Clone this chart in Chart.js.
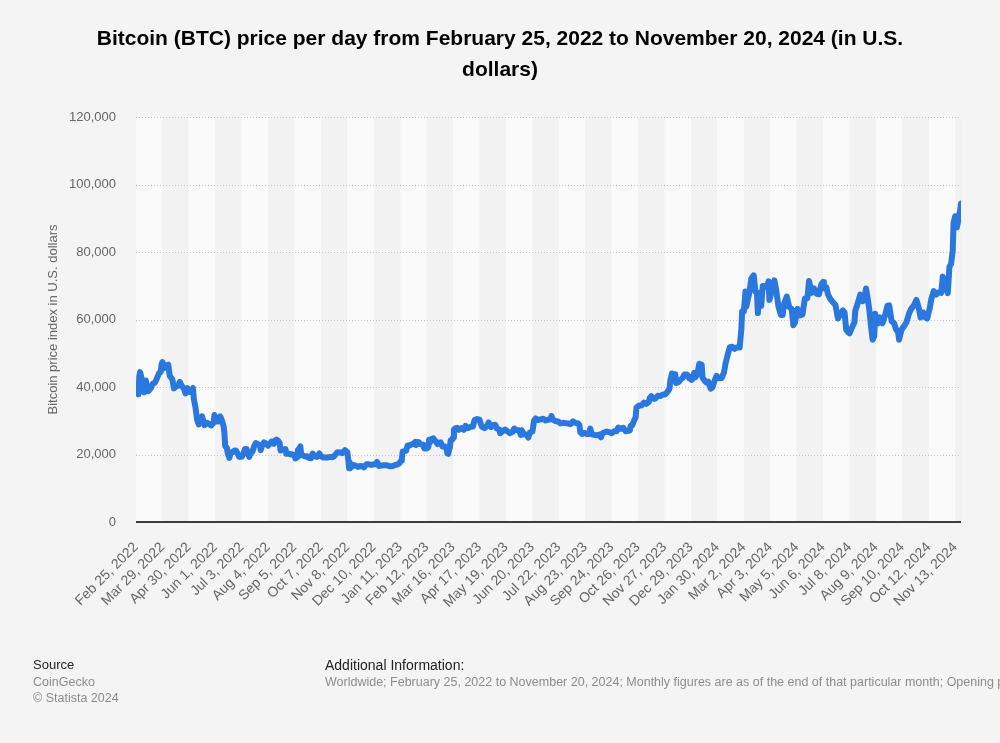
<!DOCTYPE html>
<html>
<head>
<meta charset="utf-8">
<script src="https://cdn.jsdelivr.net/npm/chart.js@4/dist/chart.umd.min.js"></script>
<style>
  html, body { margin: 0; padding: 0; background: #f4f4f4; }
  body { width: 1000px; height: 743px; position: relative; overflow: hidden; font-family: "Liberation Sans", Arial, sans-serif; }
  #wrap { position: absolute; left: 0; top: 0; width: 1000px; height: 743px; }
  .title { position: absolute; left: 0; width: 1000px; text-align: center; font-weight: bold; font-size: 21px; color: #000; line-height: 31px; }
  .foot { position: absolute; font-size: 12.5px; white-space: nowrap; line-height: 16px; }
  .fh { color: #222; font-size: 13px; }
  .fg { color: #8c8c8c; }
</style>
</head>
<body>
<div id="wrap"><canvas id="c" width="1000" height="743"></canvas></div>
<div class="title" style="top:22px">Bitcoin (BTC) price per day from February 25, 2022 to November 20, 2024 (in U.S.</div>
<div class="title" style="top:53px">dollars)</div>
<div class="foot fh" style="left:33px; top:657px;">Source</div>
<div class="foot fg" style="left:33px; top:674px;">CoinGecko</div>
<div class="foot fg" style="left:33px; top:690px;">© Statista 2024</div>
<div class="foot fh" style="left:325px; top:657px; font-size:14px;">Additional Information:</div>
<div class="foot fg" style="left:325px; top:674px;">Worldwide; February 25, 2022 to November 20, 2024; Monthly figures are as of the end of that particular month; Opening price</div>
<script>
// Day offsets counted from Feb 25, 2022 (day 0) to Nov 20, 2024 (day 999)
const tickDays = [0,32,64,96,128,160,192,224,256,288,320,352,384,416,448,480,512,544,576,608,640,672,704,736,768,800,832,864,896,928,960,992];
const tickLabels = ["Feb 25, 2022","Mar 29, 2022","Apr 30, 2022","Jun 1, 2022","Jul 3, 2022","Aug 4, 2022","Sep 5, 2022","Oct 7, 2022","Nov 8, 2022","Dec 10, 2022","Jan 11, 2023","Feb 12, 2023","Mar 16, 2023","Apr 17, 2023","May 19, 2023","Jun 20, 2023","Jul 22, 2023","Aug 23, 2023","Sep 24, 2023","Oct 26, 2023","Nov 27, 2023","Dec 29, 2023","Jan 30, 2024","Mar 2, 2024","Apr 3, 2024","May 5, 2024","Jun 6, 2024","Jul 8, 2024","Aug 9, 2024","Sep 10, 2024","Oct 12, 2024","Nov 13, 2024"];
const yTicks = [0,20000,40000,60000,80000,100000,120000];

// [day offset, price in USD]
const prices2022 = [[0,38300],[2,39100],[3,37800],[4,43200],[5,44400],[7,42400],[10,38400],[12,41900],[13,39400],[15,38800],[18,39700],[20,40900],[23,41300],[25,42400],[28,44100],[30,44500],[31,46800],[32,47400],[34,45600],[36,46300],[39,46600],[41,43200],[44,42300],[46,39600],[48,40100],[51,40400],[53,41500],[55,40500],[58,39500],[60,38100],[62,39700],[64,38600],[66,38500],[69,39700],[70,36500],[72,34000],[74,30300],[76,28900],[78,30000],[80,31300],[83,28700],[86,29400],[88,29100],[91,28600],[94,29400],[95,31700],[97,29800],[100,29800],[102,31300],[104,30100],[106,28400],[107,26600],[108,22500],[110,22000],[111,20400],[113,19000],[115,20600],[117,20700],[119,21100],[121,21200],[123,20300],[125,19300],[128,19300],[130,20200],[132,21600],[134,21600],[137,19300],[139,20600],[141,20800],[143,22400],[145,23400],[147,23200],[150,22600],[151,21300],[153,22900],[155,23600],[157,23300],[160,22600],[162,23200],[164,23800],[166,23200],[167,23900],[170,24400],[172,24100],[174,23300],[175,21200],[178,21500],[181,21600],[182,20200],[185,20300],[187,20000],[189,20100],[192,19800],[193,18800],[195,19300],[196,21300],[198,21800],[199,22400],[200,20200],[202,19700],[205,19400],[207,19500],[209,19000],[212,18900],[214,20300],[216,19500],[219,19300],[222,20300],[224,19500],[227,19100],[229,19100],[231,19100],[233,19200],[236,19300],[238,19200],[240,19500],[242,20100],[244,20700],[247,20600],[250,20400],[253,21300],[255,20900],[256,20600],[257,18500],[258,15900],[259,17600],[261,16300],[263,16900],[266,16700],[269,16300],[271,16600],[274,16500],[276,16200],[279,17100],[282,17100],[285,16900],[288,17100],[291,17200],[292,17800],[294,16600],[297,16700],[300,16800],[304,16800],[308,16500]];
const prices2023 = [[311,16600],[314,16900],[317,17100],[319,17400],[321,18200],[322,19000],[323,20900],[325,21000],[327,21100],[329,22700],[331,22700],[333,22900],[335,23100],[338,23700],[339,22800],[341,23100],[342,23700],[345,23000],[348,22900],[349,21800],[352,21800],[354,22200],[355,24400],[356,23600],[358,24600],[360,24800],[363,23900],[365,23100],[367,23500],[369,23600],[371,22400],[374,22400],[376,21700],[377,20300],[378,20200],[380,22100],[381,24200],[383,24400],[384,25100],[385,27400],[387,27800],[389,27900],[391,27300],[394,27800],[397,27300],[399,28500],[402,27800],[405,28200],[408,28300],[410,30200],[413,30500],[416,30300],[417,29400],[419,28200],[422,27800],[425,28400],[427,29500],[430,28100],[432,28700],[435,28800],[437,27700],[440,27400],[441,26300],[444,26900],[447,27400],[450,26800],[453,26300],[456,26700],[458,27700],[461,27200],[464,27200],[466,25800],[467,27200],[470,25900],[473,25900],[475,25000],[477,26500],[480,26800],[481,28300],[482,30000],[484,30700],[487,30200],[490,30400],[493,30600],[496,30100],[499,30300],[502,30400],[503,31400],[505,30300],[508,29900],[511,29800],[514,29200],[517,29400],[520,29300],[523,29200],[526,29000],[529,29800],[532,29400],[535,29200],[537,28700],[538,26600],[540,26100],[543,26400],[546,26100],[549,26100],[550,27700],[552,26000],[555,25800],[558,25700],[561,25900],[563,25100],[565,26300],[567,26500],[570,26800],[573,26600],[576,26300],[579,26900],[582,26900],[584,28000],[587,27600],[590,27900],[593,26900],[596,27000],[598,27100],[599,28500],[601,28700],[603,30000],[605,31000],[606,33900],[609,34500],[612,34500],[615,35400],[618,35000],[621,35600],[622,36700],[624,37300],[627,36500],[629,36600],[632,37400],[635,37300],[638,37800],[641,37800],[644,38700],[646,39500],[647,41900],[649,44000],[651,43800],[653,43800],[654,41200],[657,41500],[660,42300],[662,42700],[664,43700],[667,43700],[670,42600],[673,42100]];
const prices2024 = [[676,44200],[677,42800],[680,43900],[682,46900],[685,46600],[686,42800],[689,41700],[691,41300],[693,41600],[696,39500],[698,39900],[701,42100],[703,43300],[706,42600],[709,42600],[712,44300],[714,47100],[717,50000],[719,51800],[722,51900],[725,51300],[728,51800],[731,51700],[732,54500],[733,57000],[734,62400],[736,62400],[738,68300],[739,63800],[741,66100],[743,68300],[745,72000],[748,73100],[750,68400],[752,67600],[753,61900],[755,67900],[757,64000],[759,69900],[761,69900],[764,69700],[766,71300],[767,65800],[770,68500],[773,71600],[775,69100],[778,63800],[781,61300],[783,61300],[785,64900],[788,66800],[791,63700],[794,63100],[796,58300],[798,59100],[801,63200],[804,61200],[807,61500],[810,66200],[813,66300],[815,71400],[818,67900],[821,69200],[824,67600],[827,67500],[830,70500],[832,71100],[833,69300],[836,69500],[838,67400],[841,66000],[844,65100],[847,64300],[850,60300],[853,61500],[856,62700],[858,62100],[860,57000],[861,56600],[864,55900],[867,57600],[870,59200],[871,62600],[874,64800],[877,67400],[880,65400],[883,67900],[884,69200],[886,66300],[888,62900],[890,58000],[892,54000],[894,55100],[895,61700],[898,58800],[901,60600],[904,58900],[907,61200],[910,64100],[912,64200],[915,59500],[918,58900],[920,57300],[923,56100],[924,54000],[927,57000],[930,58000],[933,59200],[936,61700],[939,63300],[942,64200],[945,65800],[948,63300],[950,60600],[953,62100],[956,60600],[958,60300],[961,63200],[963,66000],[966,68400],[969,67400],[972,68100],[975,67900],[977,72700],[979,70200],[981,69500],[983,67800],[985,75600],[987,76500],[989,80400],[990,88700],[992,90600],[994,87300],[996,89800],[998,92300],[999,94400]];

const points = prices2022.concat(prices2023, prices2024).map(p => ({x: p[0], y: p[1]}));

const bandsPlugin = {
  id: 'bands',
  beforeDatasetsDraw(chart) {
    const {ctx, chartArea: a, scales: {x, y}} = chart;
    ctx.save();
    for (let i = 0; i < tickDays.length; i++) {
      const x0 = i === 0 ? a.left : x.getPixelForValue(tickDays[i]);
      const x1 = i + 1 < tickDays.length ? x.getPixelForValue(tickDays[i + 1]) : a.right;
      ctx.fillStyle = i % 2 === 0 ? '#fafafa' : '#f2f2f2';
      ctx.fillRect(x0, a.top, x1 - x0, a.bottom - a.top);
    }
    ctx.lineWidth = 1;
    ctx.strokeStyle = '#c4c4c4';
    ctx.setLineDash([1, 2]);
    yTicks.forEach(v => {
      if (v === 0) return;
      const py = Math.round(y.getPixelForValue(v)) + 0.5;
      ctx.beginPath(); ctx.moveTo(a.left, py); ctx.lineTo(a.right, py); ctx.stroke();
    });
    ctx.setLineDash([]);
    ctx.strokeStyle = '#3c3c3c';
    ctx.lineWidth = 2;
    const p0 = y.getPixelForValue(0);
    ctx.beginPath(); ctx.moveTo(a.left, p0); ctx.lineTo(a.right, p0); ctx.stroke();
    ctx.restore();
  }
};

new Chart(document.getElementById('c'), {
  type: 'line',
  data: {
    datasets: [{
      data: points,
      borderColor: '#2a78de',
      borderWidth: 6,
      pointRadius: 0,
      tension: 0,
      borderJoinStyle: 'round',
      borderCapStyle: 'round',
      fill: false
    }]
  },
  options: {
    responsive: false,
    animation: false,
    events: [],
    layout: { padding: { left: 0, right: 39, top: 117, bottom: 111 } },
    plugins: { legend: { display: false }, tooltip: { enabled: false }, title: { display: false } },
    scales: {
      x: {
        type: 'linear',
        min: 0,
        max: 999,
        grid: { display: false },
        border: { display: false },
        afterBuildTicks(scale) { scale.ticks = tickDays.map(v => ({ value: v })); },
        afterFit(scale) { scale.height = 110; },
        ticks: {
          autoSkip: false,
          minRotation: 45,
          maxRotation: 45,
          padding: 9,
          color: '#666',
          font: { family: '"Liberation Sans", Arial, sans-serif', size: 14 },
          callback(value, index) { return tickLabels[index]; }
        }
      },
      y: {
        min: 0,
        max: 120000,
        afterBuildTicks(scale) { scale.ticks = yTicks.map(v => ({ value: v })); },
        afterFit(scale) { scale.width = 136; },
        grid: { display: false, drawTicks: false },
        border: { display: false },
        ticks: {
          padding: 20,
          color: '#666',
          font: { family: '"Liberation Sans", Arial, sans-serif', size: 13 },
          callback(value) { return value.toLocaleString('en-US'); }
        },
        title: {
          display: true,
          text: 'Bitcoin price index in U.S. dollars',
          color: '#666',
          font: { family: '"Liberation Sans", Arial, sans-serif', size: 13 },
          padding: { top: 46, bottom: 0 }
        }
      }
    }
  },
  plugins: [bandsPlugin]
});
</script>
</body>
</html>
